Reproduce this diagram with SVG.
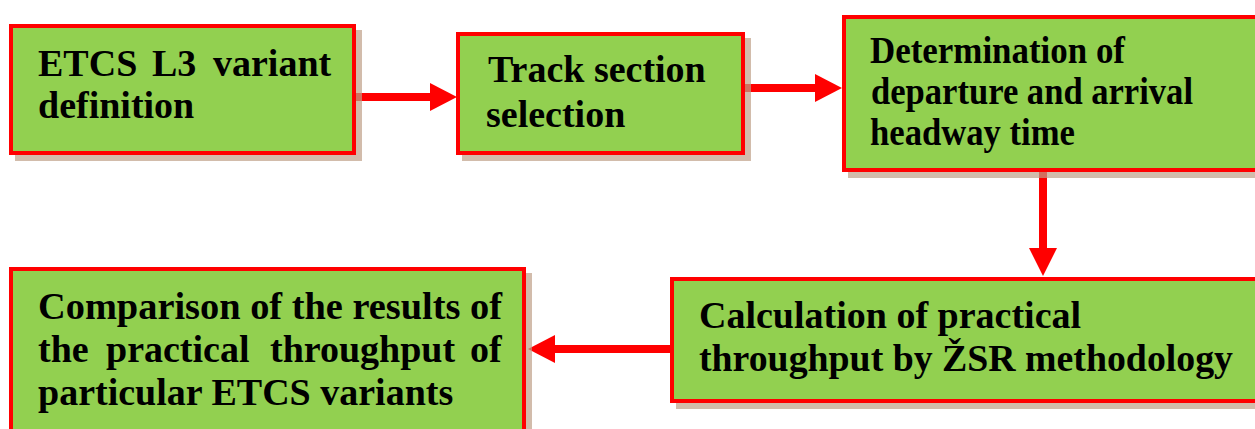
<svg xmlns="http://www.w3.org/2000/svg" width="1255" height="429" viewBox="0 0 1255 429">
  <style>
    .box { fill: #92d050; stroke: #ff0000; stroke-width: 4; }
    .shadow { fill: #bf9f88; opacity: 0.7; }
    .conn { stroke: #ff0000; stroke-width: 8; fill: none; }
    .head { fill: #ff0000; }
  </style>
  <rect width="1255" height="429" fill="#ffffff"/>

  <g id="connectors">
    <line class="conn" x1="356" y1="97" x2="432" y2="97"/>
    <polygon class="head" points="430,83 457,97 430,111"/>
    <line class="conn" x1="745" y1="88" x2="817" y2="88"/>
    <polygon class="head" points="815,74 842,88 815,102"/>
    <line class="conn" x1="1043" y1="172" x2="1043" y2="250"/>
    <polygon class="head" points="1029,248 1043,276 1057,248"/>
    <line class="conn" x1="670" y1="349" x2="553" y2="349"/>
    <polygon class="head" points="555,335 528,349 555,363"/>
  </g>

  <g font-family="Liberation Serif" font-weight="bold" font-size="38" fill="#000000">
  <g id="node-etcs-l3">
    <rect class="shadow" x="15" y="30" width="347" height="131"/>
    <rect class="box" x="11" y="26" width="343" height="127"/>
    <text y="76"><tspan x="38">ETCS</tspan><tspan x="152">L3</tspan><tspan x="213">variant</tspan></text>
    <text x="38" y="118">definition</text>
  </g>

  <g id="node-track-section">
    <rect class="shadow" x="462" y="38" width="289" height="123"/>
    <rect class="box" x="458" y="34" width="285" height="119"/>
    <text x="488" y="82">Track section</text>
    <text x="486" y="127">selection</text>
  </g>

  <g id="node-headway">
    <rect class="shadow" x="848" y="21" width="420" height="157"/>
    <rect class="box" x="844" y="17" width="420" height="153"/>
    <text x="870" y="63" textLength="255" lengthAdjust="spacingAndGlyphs">Determination of</text>
    <text x="871" y="104" textLength="322" lengthAdjust="spacingAndGlyphs">departure and arrival</text>
    <text x="870" y="145" textLength="205" lengthAdjust="spacingAndGlyphs">headway time</text>
  </g>

  <g id="node-calculation">
    <rect class="shadow" x="676" y="283" width="600" height="126"/>
    <rect class="box" x="672" y="279" width="600" height="122"/>
    <text x="699" y="328">Calculation of practical</text>
    <text x="699" y="371" textLength="534" lengthAdjust="spacingAndGlyphs">throughput by ŽSR methodology</text>
  </g>

  <g id="node-comparison">
    <rect class="shadow" x="15" y="273" width="517" height="170"/>
    <rect class="box" x="11" y="269" width="513" height="170"/>
    <text x="38" y="319" textLength="464" lengthAdjust="spacingAndGlyphs">Comparison of the results of</text>
    <text y="362"><tspan x="38">the</tspan><tspan x="106">practical</tspan><tspan x="270">throughput</tspan><tspan x="470">of</tspan></text>
    <text x="38" y="405">particular ETCS variants</text>
  </g>
  </g>
</svg>
